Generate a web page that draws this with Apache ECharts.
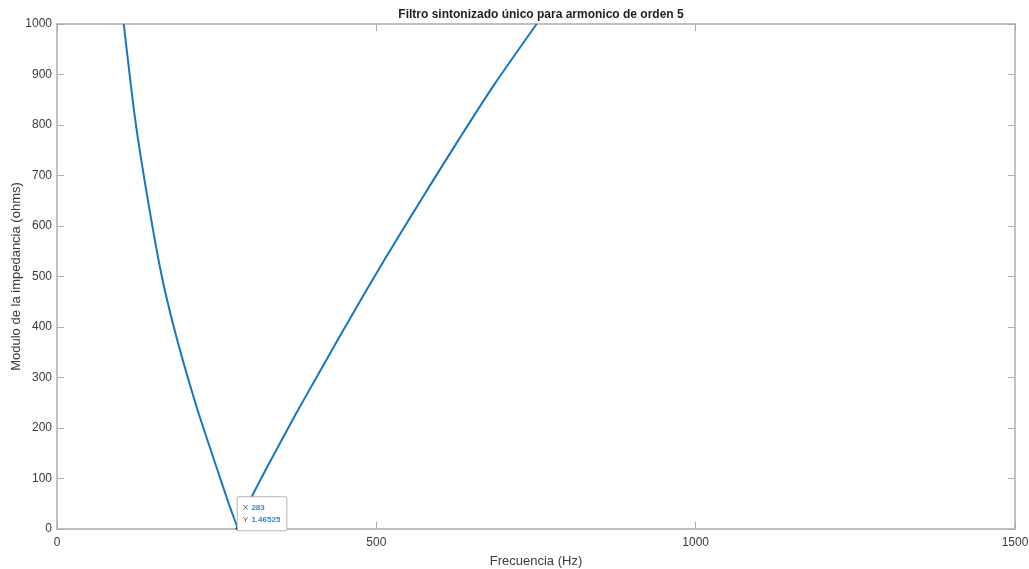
<!DOCTYPE html>
<html>
<head>
<meta charset="utf-8">
<title>Filtro sintonizado único</title>
<script src="https://cdn.jsdelivr.net/npm/echarts@6/dist/echarts.min.js"></script>
<style>
  html, body { margin: 0; padding: 0; background: #ffffff; }
  #chart { width: 1029px; height: 569px; }
</style>
</head>
<body>
<div id="chart"></div>
<script>
// Impedance magnitude of the single-tuned filter, split at the resonance point
const leftFreq  = [104.5, 122, 139, 163, 187, 219, 253, 269, 283];
const leftZ     = [1000, 815, 676, 507, 380, 240, 110, 50, 1.46525];
const rightFreq = [283, 305, 339, 375, 412, 443, 474, 500, 527, 579, 631, 683, 751];
const rightZ    = [1.46525, 64, 146, 230, 313, 382, 450, 506, 563, 670, 775, 877, 1000];

// Data tip at the tuned frequency
const tipX = 283;
const tipY = 1.46525;

// Axis ranges and ticks
const xTicks = [0, 500, 1000, 1500];
const yMin = 0, yMax = 1000, yStep = 100;

const titleText = 'Filtro sintonizado único para armonico de orden 5';
const xName = 'Frecuencia (Hz)';
const yName = 'Modulo de la impedancia (ohms)';

const lineColor = '#1676bf';
const frameColor = '#acacac';
const textColor = '#3a3a3a';
const fontFamily = 'Liberation Sans, Arial, Helvetica, sans-serif';

function pairs(xs, ys) { return xs.map((x, i) => [x, ys[i]]); }
function plain(v) { return String(v); }

const frameAxis = {
  axisLine: { show: true, onZero: false, lineStyle: { color: frameColor, width: 1.5 } },
  axisTick: { show: true, inside: true, length: 7, lineStyle: { color: frameColor, width: 1 } },
  splitLine: { show: false }
};

const chart = echarts.init(document.getElementById('chart'), null, { renderer: 'canvas' });

chart.setOption({
  backgroundColor: '#ffffff',
  animation: false,
  textStyle: { fontFamily: fontFamily },
  title: {
    text: titleText,
    left: 536,
    top: 4,
    textAlign: 'center',
    textStyle: { fontSize: 12, fontWeight: 'bold', color: '#1f1f1f', fontFamily: fontFamily }
  },
  grid: { left: 57, right: 14, top: 24, bottom: 40, containLabel: false, outerBoundsMode: 'none' },
  xAxis: [
    Object.assign({
      type: 'value', position: 'bottom',
      min: xTicks[0], max: xTicks[xTicks.length - 1], interval: xTicks[1] - xTicks[0],
      name: xName, nameLocation: 'middle', nameGap: 26,
      nameTextStyle: { fontSize: 13, color: textColor, fontFamily: fontFamily },
      axisLabel: { margin: 8, fontSize: 12, color: textColor, fontFamily: fontFamily, formatter: plain }
    }, frameAxis),
    Object.assign({
      type: 'value', position: 'top',
      min: xTicks[0], max: xTicks[xTicks.length - 1], interval: xTicks[1] - xTicks[0],
      axisLabel: { show: false }
    }, frameAxis)
  ],
  yAxis: [
    Object.assign({
      type: 'value', position: 'left',
      min: yMin, max: yMax, interval: yStep,
      name: yName, nameLocation: 'middle', nameGap: 34, nameRotate: 90,
      nameMoveOverlap: false,
      nameTextStyle: { fontSize: 13, color: textColor, fontFamily: fontFamily },
      axisLabel: { margin: 5, fontSize: 12, color: textColor, fontFamily: fontFamily, formatter: plain }
    }, frameAxis),
    Object.assign({
      type: 'value', position: 'right',
      min: yMin, max: yMax, interval: yStep,
      axisLabel: { show: false }
    }, frameAxis)
  ],
  series: [
    {
      type: 'line', name: 'Z_left',
      xAxisIndex: 0, yAxisIndex: 0,
      data: pairs(leftFreq, leftZ),
      showSymbol: false, smooth: 0.25, clip: true,
      lineStyle: { color: lineColor, width: 2 }
    },
    {
      type: 'line', name: 'Z_right',
      xAxisIndex: 0, yAxisIndex: 0,
      data: pairs(rightFreq, rightZ),
      showSymbol: false, smooth: 0.25, clip: true,
      lineStyle: { color: lineColor, width: 2 },
      markPoint: {
        z: 10,
        silent: true,
        data: [{
          coord: [tipX, tipY],
          symbol: 'circle',
          symbolSize: 4,
          itemStyle: { color: '#111111' },
          label: {
            show: true,
            position: [2, -29],
            align: 'left',
            verticalAlign: 'top',
            backgroundColor: '#ffffff',
            borderColor: '#b4b4b4',
            borderWidth: 1,
            borderRadius: 1,
            padding: [5, 6, 4, 5],
            formatter: '{k|X} {v|' + tipX + '}\n{k|Y} {v|' + tipY + '}',
            rich: {
              k: { fontSize: 8, color: '#555555', lineHeight: 11, fontFamily: fontFamily },
              v: { fontSize: 8, color: '#1a8fe0', fontWeight: 'bold', lineHeight: 11, fontFamily: fontFamily }
            }
          }
        }]
      }
    }
  ]
});
</script>
</body>
</html>
